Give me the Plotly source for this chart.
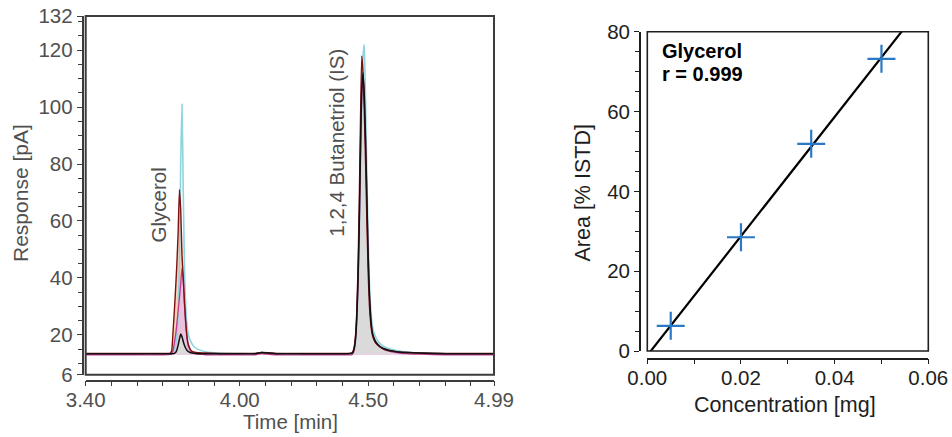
import numpy as np
import plotly.graph_objects as go

# ---------------- data: chromatogram ----------------
TIME = [3.40, 3.50, 3.60, 3.70,
        3.730, 3.735, 3.740, 3.745, 3.750, 3.755, 3.760, 3.765, 3.770, 3.775,
        3.780, 3.785, 3.790, 3.795, 3.800, 3.810, 3.820, 3.840, 3.870,
        3.920, 4.000, 4.060, 4.085, 4.110, 4.140, 4.250,
        4.380, 4.420, 4.435, 4.440, 4.445, 4.450, 4.455, 4.460, 4.465, 4.470,
        4.475, 4.480, 4.485, 4.490, 4.495, 4.500, 4.505, 4.510, 4.515, 4.520,
        4.530, 4.545, 4.560, 4.580, 4.610, 4.650, 4.700, 4.800, 4.990]

CYAN = [13.3, 13.3, 13.3, 13.3,
        13.4, 13.5, 13.9, 14.8, 16.8, 20.5, 28, 45, 80, 101,
        70, 42, 29, 23, 20, 17.5, 16.0, 14.8, 14.0,
        13.6, 13.4, 13.4, 13.8, 13.6, 13.4, 13.3,
        13.3, 13.3, 13.4, 13.6, 14.5, 17, 23, 34, 52, 78,
        100, 118, 122, 100, 76, 54, 38, 29, 24, 21.5,
        19, 17, 16, 15.2, 14.5, 14.0, 13.7, 13.4, 13.3]

RED = [13.5, 13.5, 13.5, 13.5,
       13.6, 14.5, 21, 28, 36, 45, 56, 71, 64, 48,
       40, 31, 24, 19, 16.5, 14.5, 14.0, 13.7, 13.6,
       13.5, 13.5, 13.5, 13.8, 13.7, 13.5, 13.5,
       13.5, 13.5, 13.6, 14.0, 15.5, 19, 27, 42, 65, 95,
       118, 112, 98, 80, 60, 42, 30, 24, 20.5, 18.8,
       17, 15.8, 15.0, 14.5, 14.1, 13.8, 13.6, 13.5, 13.5]

MAGENTA = [13.0, 13.0, 13.0, 13.0,
           13.1, 13.3, 14.5, 17, 20, 24, 28.5, 33, 38, 43.5,
           39, 30, 23, 18.5, 16.0, 14.3, 13.6, 13.2, 13.0,
           13.0, 13.0, 13.0, 13.4, 13.2, 13.0, 13.0,
           13.0, 13.0, 13.0, 13.3, 14.5, 17.5, 24, 36, 55, 82,
           104, 111, 104, 88, 68, 48, 34, 26, 21.5, 19.5,
           17.3, 15.8, 15.0, 14.3, 13.8, 13.4, 13.2, 13.0, 13.0]

BLACK = [13.4, 13.4, 13.4, 13.4,
         13.4, 13.4, 13.4, 13.5, 13.8, 14.7, 16.4, 18.5, 20.3, 19.3,
         17.6, 16.2, 15.2, 14.5, 14.1, 13.7, 13.5, 13.4, 13.4,
         13.4, 13.4, 13.4, 13.8, 13.6, 13.4, 13.4,
         13.4, 13.4, 13.5, 13.8, 15, 18, 25, 38, 58, 85,
         106, 112, 104, 88, 68, 48, 34, 26, 21.5, 19.5,
         17.5, 16, 15.2, 14.6, 14.1, 13.8, 13.6, 13.4, 13.4]

TIME_TICKS = [3.40, 4.00, 4.50, 4.99]
TIME_TICK_TEXT = ["3.40", "4.00", "4.50", "4.99"]
RESP_TICKS = [6, 20, 40, 60, 80, 100, 120, 132]

# ---------------- data: calibration ----------------
CONC = [0.005, 0.020, 0.035, 0.050]
AREA = [6.3, 28.5, 51.9, 73.2]
CONC_TICKS = [0.00, 0.02, 0.04, 0.06]
CONC_TICK_TEXT = ["0.00", "0.02", "0.04", "0.06"]
AREA_TICKS = [0, 20, 40, 60, 80]

W, H = 952, 437
FONT = "Liberation Sans, Arial, Helvetica, sans-serif"
GRAY_TXT = "#505050"
DARK_TXT = "#1e1e1e"


def px_x(p):
    return p / W


def px_y(p):
    return 1 - p / H


fig = go.Figure()

# fills (drawn first, under all lines)
fills = [(RED, "#f9d3b6"), (MAGENTA, "#e9c2de"), (BLACK, "#dadada")]
for vals, col in fills:
    base = vals[0]
    fig.add_trace(go.Scatter(
        x=TIME + [TIME[-1], TIME[0]], y=vals + [base, base],
        fill="toself", fillcolor=col, mode="lines",
        line=dict(width=0, color=col, shape="linear"),
        hoverinfo="skip", showlegend=False, xaxis="x", yaxis="y"))

lines = [(CYAN, "#8ed4df", 1.6), (MAGENTA, "#c4388f", 1.3),
         (RED, "#7e1010", 1.4), (BLACK, "#111111", 1.5)]
for vals, col, w in lines:
    fig.add_trace(go.Scatter(
        x=TIME, y=vals, mode="lines",
        line=dict(color=col, width=w, shape="spline", smoothing=0.5),
        showlegend=False, xaxis="x", yaxis="y"))

# calibration
coef = np.polyfit(CONC, AREA, 1)
fit_x = np.array([0.0, 0.06])
fit_y = np.polyval(coef, fit_x)
fig.add_trace(go.Scatter(x=fit_x, y=fit_y, mode="lines",
                         line=dict(color="#000000", width=2.2),
                         showlegend=False, xaxis="x2", yaxis="y2"))
fig.add_trace(go.Scatter(x=CONC, y=AREA, mode="markers",
                         marker=dict(symbol="cross-thin", size=20,
                                     line=dict(color="#2a78c6", width=2.2)),
                         showlegend=False, xaxis="x2", yaxis="y2"))

axis_common = dict(showgrid=False, zeroline=False, showline=True,
                   linewidth=1.5, ticks="outside", ticklen=5, tickwidth=1.2,
                   anchor="free", fixedrange=True, automargin=False)


def ann(text, x, y, size, color, angle=0, xanchor="center"):
    return dict(text=text, x=px_x(x), y=px_y(y), xref="paper", yref="paper",
                xanchor=xanchor, yanchor="middle", textangle=angle,
                showarrow=False, font=dict(size=size, color=color))


fig.update_layout(
    width=W, height=H,
    margin=dict(l=0, r=0, t=0, b=0, autoexpand=False),
    paper_bgcolor="white", plot_bgcolor="white",
    font=dict(family=FONT, size=20, color=GRAY_TXT),
    xaxis=dict(**axis_common, domain=[px_x(85.7), px_x(494)], position=px_y(380.7),
               range=[3.40, 4.99], tickmode="array", tickvals=TIME_TICKS,
               ticktext=TIME_TICK_TEXT, linecolor="#3c3c3c", tickcolor="#3c3c3c",
               tickfont=dict(color=GRAY_TXT, size=20.5), ticklabelstandoff=-4,
               minor=dict(tickmode="linear", tick0=3.4, dtick=0.1, ticks="outside",
                          ticklen=5, tickcolor="#3c3c3c", showgrid=False)),
    yaxis=dict(**axis_common, domain=[px_y(374.7), px_y(16)], position=px_x(82.5),
               range=[6, 132], tickmode="array", tickvals=RESP_TICKS,
               linecolor="#3c3c3c", tickcolor="#3c3c3c",
               tickfont=dict(color=GRAY_TXT, size=20.5),
               minor=dict(tickmode="linear", tick0=0, dtick=5, ticks="outside",
                          ticklen=4, tickcolor="#3c3c3c", showgrid=False)),
    xaxis2=dict(**axis_common, domain=[px_x(647.3), px_x(928.3)], position=px_y(358.5),
                range=[0, 0.06], tickmode="array", tickvals=CONC_TICKS,
                ticktext=CONC_TICK_TEXT, linecolor="#1e1e1e", tickcolor="#1e1e1e",
                tickfont=dict(color=DARK_TXT, size=20.5), ticklabelstandoff=-4,
                minor=dict(tickmode="linear", tick0=0, dtick=0.01, ticks="outside",
                           ticklen=5, tickcolor="#1e1e1e", showgrid=False)),
    yaxis2=dict(**axis_common, domain=[px_y(351), px_y(31.7)], position=px_x(639.8),
                range=[0, 80], tickmode="array", tickvals=AREA_TICKS,
                linecolor="#1e1e1e", tickcolor="#1e1e1e",
                tickfont=dict(color=DARK_TXT, size=20.5),
                minor=dict(tickmode="linear", tick0=0, dtick=5, ticks="outside",
                           ticklen=4, tickcolor="#1e1e1e", showgrid=False)),
    shapes=[
        dict(type="rect", xref="x domain", yref="y domain", x0=0, x1=1, y0=0, y1=1,
             line=dict(color="#3c3c3c", width=2), layer="above"),
        dict(type="rect", xref="x2 domain", yref="y2 domain", x0=0, x1=1, y0=0, y1=1,
             line=dict(color="#1e1e1e", width=1.6), layer="above"),
    ],
    annotations=[
        ann("Response [pA]", 20, 193, 21, GRAY_TXT, -90),
        ann("Time [min]", 290, 421, 20.5, GRAY_TXT),
        ann("Glycerol", 158.5, 205, 20.5, GRAY_TXT, -90),
        ann("1,2,4 Butanetriol (IS)", 336.7, 143, 20.5, GRAY_TXT, -90),
        ann("Area [% ISTD]", 582, 193.5, 21.5, DARK_TXT, -90),
        ann("Concentration [mg]", 784.5, 405, 21.5, DARK_TXT),
        ann("<b>Glycerol</b>", 660, 51, 20, "#000000", 0, "left"),
        ann("<b>r = 0.999</b>", 660, 74, 20, "#000000", 0, "left"),
    ],
)

fig.write_html("out.html", config={"displayModeBar": False},
               post_script="document.body.style.margin='0px';")
